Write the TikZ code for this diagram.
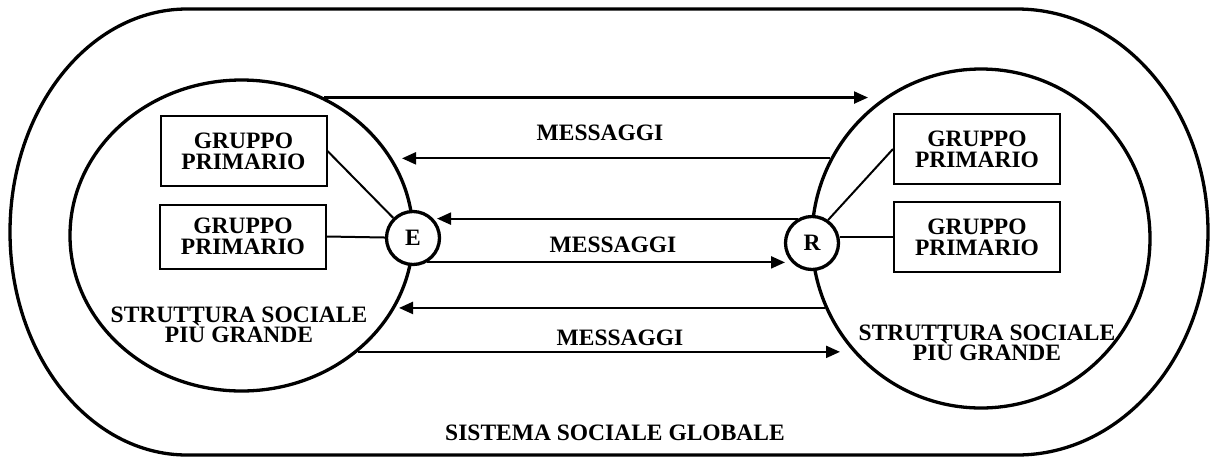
\documentclass[tikz,border=0pt]{standalone}
\usepackage{fontspec}
\setmainfont{Liberation Serif}
\usetikzlibrary{arrows.meta,shapes.geometric,calc}
\lineskiplimit=-100pt
\begin{document}
\begin{tikzpicture}[x=1pt,y=-1pt,
  txt/.style={font=\bfseries\fontsize{23.5}{21}\selectfont},
  thickline/.style={line width=3.3pt},
  group/.style={txt,draw,line width=2pt,rectangle,minimum width=166,minimum height=70,inner sep=0pt,align=center},
  struct/.style={draw,thickline,ellipse,inner sep=0pt},
  actor/.style={txt,draw,thickline,circle,minimum size=53,inner sep=0pt},
  msg/.style={-{Triangle[length=14pt,width=12pt]},line width=2.2pt},
  link/.style={line width=2pt},
  lbl/.style={txt,inner sep=0pt,align=center}]
\useasboundingbox (0,0) rectangle (1210,459);

% global social system: rounded outline
\draw[thickline] (187,9) -- (1017,9)
  arc[start angle=-90,end angle=90,x radius=191,y radius=223]
  -- (187,455)
  arc[start angle=90,end angle=270,x radius=177,y radius=223] -- cycle;

% larger social structures
\node[struct,minimum width=343,minimum height=311] (Lbig) at (241.5,235.5) {};
\node[struct,minimum width=338,minimum height=339] (Rbig) at (981,238.5) {};

% sender and receiver
\node[actor,fill=white] (Ecirc) at (413,238) {E};
\node[actor,fill=white] (Rcirc) at (812,243) {R};

% primary groups
\node[group] (lb1) at (243.5,151) {GRUPPO\\PRIMARIO};
\node[group,minimum height=64] (lb2) at (243,236.5) {GRUPPO\\PRIMARIO};
\node[group] (rb1) at (977,149) {GRUPPO\\PRIMARIO};
\node[group] (rb2) at (977,237) {GRUPPO\\PRIMARIO};

\draw[link] (lb1.east) -- (Ecirc);
\draw[link] (lb2.east) -- (Ecirc);
\draw[link] (rb1.west) -- (Rcirc.55);
\draw[link] (rb2.west) -- (rb2.west -| Rcirc.east);

% arrow tips
\coordinate (t1) at (868,0);
\coordinate (t2) at (402,0);
\coordinate (t3) at (437,0);
\coordinate (t4) at (785,0);
\coordinate (t5) at (399,0);
\coordinate (t6) at (840,0);

% messages
\draw[msg] (Lbig.59.8) -- (Lbig.59.8 -| t1);
\draw[msg] (Rbig.152.3) -- (Rbig.152.3 -| t2);
\draw[msg] (Rcirc.120) -- (Rcirc.120 -| t3);
\draw[msg] (Ecirc.-60) -- (Ecirc.-60 -| t4);
\draw[msg] (Rbig.204.6) -- (Rbig.204.6 -| t5);
\draw[msg] (Lbig.-45.7) -- (Lbig.-45.7 -| t6);

\node[lbl,anchor=base] (m1) at (600,140) {MESSAGGI};
\node[lbl,anchor=base] (m2) at (613,252) {MESSAGGI};
\node[lbl,anchor=base] (m3) at (620,345) {MESSAGGI};

% structure labels
\node[lbl,font=\bfseries\fontsize{23.5}{20}\selectfont,anchor=north] (ls) at (239,307) {STRUTTURA SOCIALE\\PIÙ GRANDE};
\node[lbl,font=\bfseries\fontsize{23.5}{20}\selectfont,anchor=north] (rs) at (987,325) {STRUTTURA SOCIALE\\PIÙ GRANDE};

\node[lbl,anchor=base] (sys) at (615,440) {SISTEMA SOCIALE GLOBALE};
\end{tikzpicture}
\end{document}
